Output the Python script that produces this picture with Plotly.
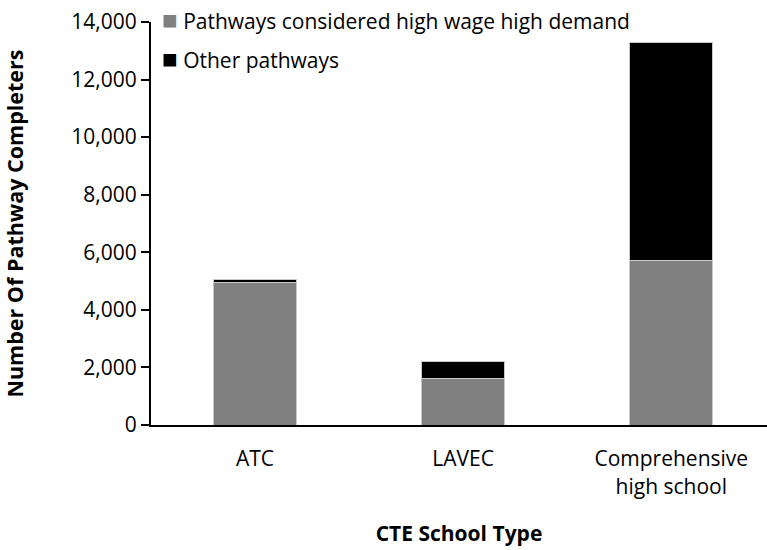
import plotly.graph_objects as go

# Data
school_types = ['ATC', 'LAVEC', 'Comprehensive<br>high school']
high_wage = [4950, 1600, 5730]
other = [110, 600, 7565]
series_names = ['Pathways considered high wage high demand', 'Other pathways']

FONT = 'Open Sans, Segoe UI, sans-serif'
COLOR_HW = '#808080'
COLOR_OTHER = '#000000'
COLOR_EDGE = '#c8c8c8'

fig = go.Figure()

fig.add_trace(go.Bar(
    x=school_types, y=high_wage,
    name=series_names[0],
    marker=dict(color=COLOR_HW, line=dict(color=COLOR_EDGE, width=1)),
    width=0.4,
))
fig.add_trace(go.Bar(
    x=school_types, y=other,
    name=series_names[1],
    marker=dict(color=COLOR_OTHER, line=dict(color=COLOR_EDGE, width=1)),
    width=0.4,
))

# legenda ca adnotari (legenda plotly e fortata in interiorul paginii)
for name, color, ypos in [(series_names[0], COLOR_HW, 1.0085),
                          (series_names[1], COLOR_OTHER, 0.9115)]:
    fig.add_annotation(
        xref='paper', yref='paper', x=0.014, y=ypos,
        xanchor='left', yanchor='middle', showarrow=False,
        text=f'<span style="color:{color};font-size:26px">■</span> {name}',
        font=dict(size=21, color='black', family=FONT),
    )

fig.update_layout(
    barmode='stack',
    width=767, height=550,
    margin=dict(l=151, r=0, t=22, b=125),
    paper_bgcolor='white',
    plot_bgcolor='white',
    font=dict(family=FONT, size=21, color='black'),
    showlegend=False,
)

fig.update_xaxes(
    range=[-0.5, 2.46],
    showline=True, linecolor='black', linewidth=2,
    ticks='', showgrid=False,
    ticklabelstandoff=14,
    automargin=False,
    title=dict(text='<b>CTE School Type</b>', font=dict(size=21), standoff=28),
)
fig.update_yaxes(
    range=[0, 14000], dtick=2000, tickformat=',',
    showline=True, linecolor='black', linewidth=2,
    ticks='outside', ticklen=8, tickcolor='black', tickwidth=1.5,
    ticklabeloverflow='allow',
    showgrid=False, zeroline=False,
    automargin=False,
    title=dict(text='<b>Number Of Pathway Completers</b>', font=dict(size=21.5), standoff=42),
)

# fara marginea implicita a paginii, ca figura sa ocupe exact fereastra
fig.write_html('out.html', config={'displayModeBar': False},
               post_script="document.body.style.margin='0';")
